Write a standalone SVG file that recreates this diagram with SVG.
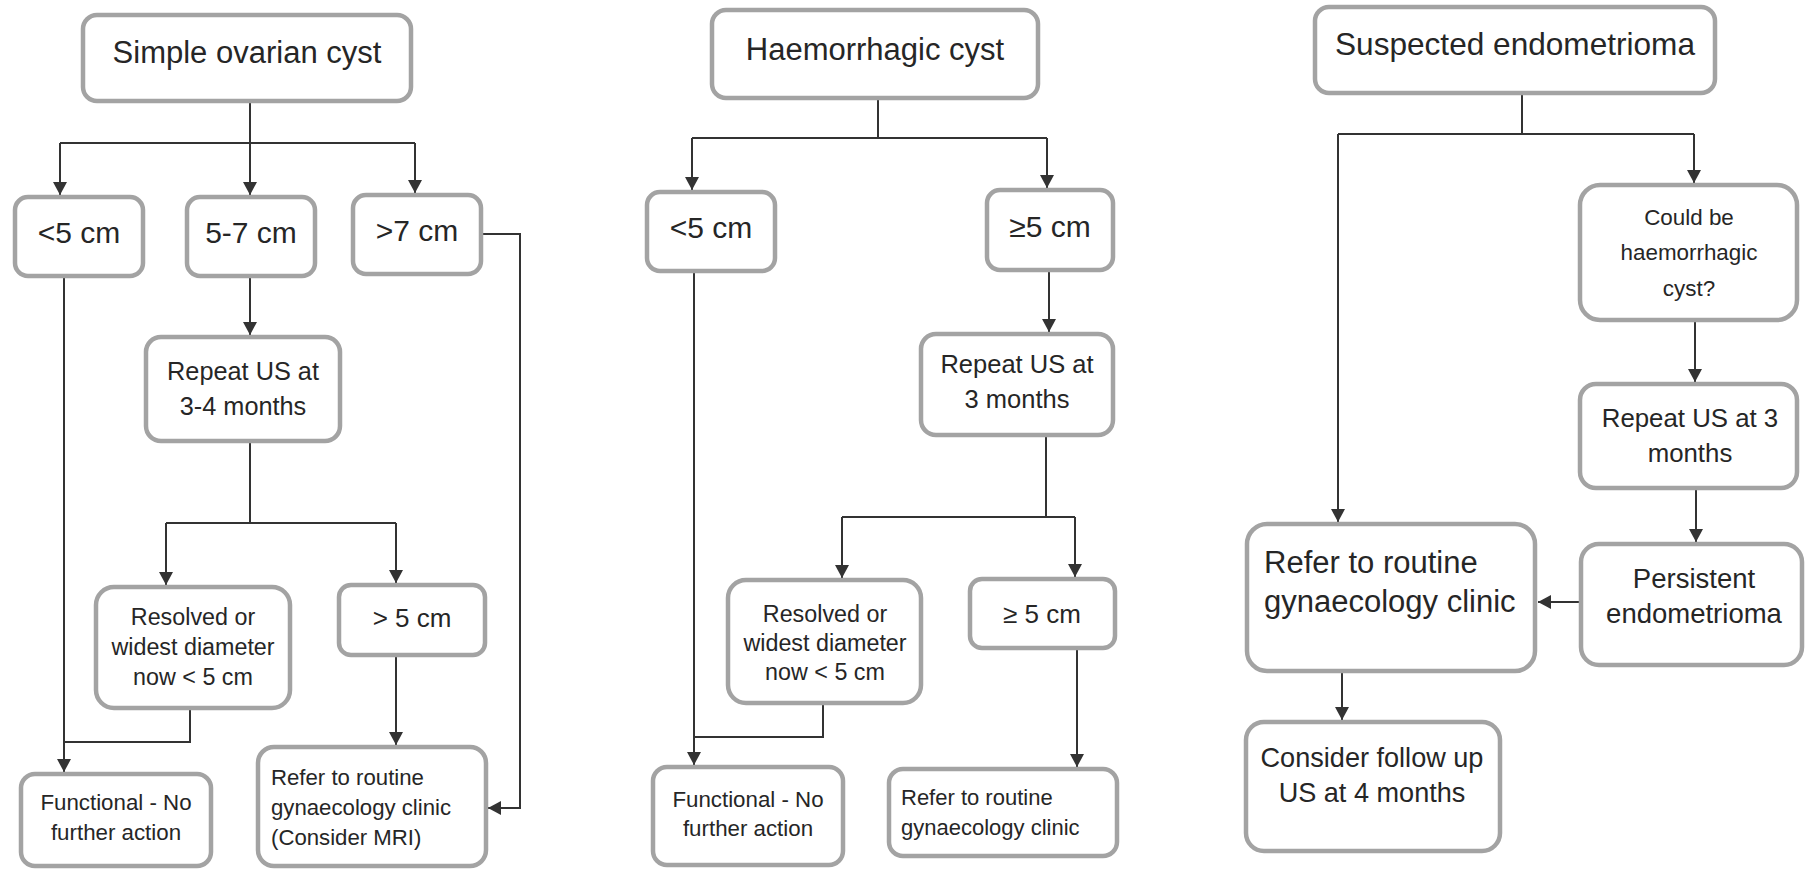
<svg xmlns="http://www.w3.org/2000/svg" width="1807" height="871" viewBox="0 0 1807 871">
<style>
.box{fill:#fff;stroke:#a3a3a3;stroke-width:4.5}
.t{font-family:"Liberation Sans",Arial,sans-serif;fill:#262626;text-anchor:middle}
.l{text-anchor:start}
.c{fill:none;stroke:#333;stroke-width:2}
.a{marker-end:url(#ah)}
</style>
<defs>
<marker id="ah" markerUnits="userSpaceOnUse" markerWidth="14" markerHeight="14" refX="13" refY="7" orient="auto">
<path d="M0,0 L13,7 L0,14 z" fill="#333"/>
</marker>
</defs>
<rect width="1807" height="871" fill="#fff"/>
<g id="connectors">
<path class="c" d="M250,103 V143 M60,143 H415"/>
<path class="c a" d="M250,143 V195"/>
<path class="c a" d="M60,143 V195"/>
<path class="c a" d="M415,143 V193"/>
<path class="c a" d="M64,278 V772"/>
<path class="c" d="M190,710 V742 H64"/>
<path class="c a" d="M250,278 V335"/>
<path class="c" d="M250,443 V523 M166,523 H396"/>
<path class="c a" d="M166,523 V585"/>
<path class="c a" d="M396,523 V583"/>
<path class="c a" d="M396,657 V745"/>
<path class="c a" d="M483,234 H520 V808 H488"/>
<path class="c" d="M878,100 V138 M692,138 H1047"/>
<path class="c a" d="M692,138 V190"/>
<path class="c a" d="M1047,138 V188"/>
<path class="c a" d="M694,273 V765"/>
<path class="c a" d="M1049,272 V332"/>
<path class="c" d="M1046,437 V517 M842,517 H1075"/>
<path class="c a" d="M842,517 V578"/>
<path class="c a" d="M1075,517 V577"/>
<path class="c" d="M823,705 V737 H694"/>
<path class="c a" d="M1077,650 V767"/>
<path class="c" d="M1522,95 V134 M1338,134 H1694"/>
<path class="c a" d="M1694,134 V183"/>
<path class="c a" d="M1338,134 V522"/>
<path class="c a" d="M1695,322 V382"/>
<path class="c a" d="M1696,490 V542"/>
<path class="c a" d="M1579,602 H1538"/>
<path class="c a" d="M1342,673 V720"/>
</g>
<g id="root1"><rect class="box" x="83" y="15" width="328" height="86" rx="14"/><text class="t" x="247" y="63" font-size="31">Simple ovarian cyst</text></g>
<g id="lt5a"><rect class="box" x="15" y="197" width="128" height="79" rx="13"/><text class="t" x="79" y="243" font-size="30">&lt;5 cm</text></g>
<g id="r57"><rect class="box" x="187" y="197" width="128" height="79" rx="13"/><text class="t" x="251" y="243" font-size="30">5-7 cm</text></g>
<g id="gt7"><rect class="box" x="353" y="195" width="128" height="79" rx="13"/><text class="t" x="417" y="241" font-size="30">&gt;7 cm</text></g>
<g id="rep1"><rect class="box" x="146" y="337" width="194" height="104" rx="15"/><text class="t" x="243" y="380" font-size="25.3">Repeat US at</text><text class="t" x="243" y="415" font-size="25.3">3-4 months</text></g>
<g id="res1"><rect class="box" x="96" y="587" width="194" height="121" rx="18"/><text class="t" font-size="23.3"><tspan x="193" y="625">Resolved or</tspan><tspan x="193" y="655">widest diameter</tspan><tspan x="193" y="685">now &lt; 5 cm</tspan></text></g>
<g id="gt5a"><rect class="box" x="339" y="585" width="146" height="70" rx="12"/><text class="t" x="412" y="627" font-size="26">&gt; 5 cm</text></g>
<g id="fun1"><rect class="box" x="21" y="774" width="190" height="92" rx="14"/><text class="t" font-size="22.3"><tspan x="116" y="810">Functional - No</tspan><tspan x="116" y="840">further action</tspan></text></g>
<g id="ref1"><rect class="box" x="258" y="747" width="228" height="119" rx="16"/><text class="t l" font-size="22.2"><tspan x="271" y="785">Refer to routine</tspan><tspan x="271" y="815">gynaecology clinic</tspan><tspan x="271" y="845">(Consider MRI)</tspan></text></g>
<g id="root2"><rect class="box" x="712" y="10" width="326" height="88" rx="14"/><text class="t" x="875" y="60" font-size="31">Haemorrhagic cyst</text></g>
<g id="lt5b"><rect class="box" x="647" y="192" width="128" height="79" rx="13"/><text class="t" x="711" y="238" font-size="30">&lt;5 cm</text></g>
<g id="ge5b"><rect class="box" x="987" y="190" width="126" height="80" rx="13"/><text class="t" x="1050" y="237" font-size="30">≥5 cm</text></g>
<g id="rep2"><rect class="box" x="921" y="334" width="192" height="101" rx="15"/><text class="t" x="1017" y="373" font-size="25.5">Repeat US at</text><text class="t" x="1017" y="408" font-size="25.5">3 months</text></g>
<g id="res2"><rect class="box" x="728" y="580" width="193" height="123" rx="18"/><text class="t" font-size="23.3"><tspan x="825" y="622">Resolved or</tspan><tspan x="825" y="651">widest diameter</tspan><tspan x="825" y="680">now &lt; 5 cm</tspan></text></g>
<g id="ge5c"><rect class="box" x="970" y="579" width="145" height="69" rx="12"/><text class="t" x="1042" y="623" font-size="26">≥ 5 cm</text></g>
<g id="fun2"><rect class="box" x="653" y="767" width="190" height="98" rx="14"/><text class="t" font-size="22.3"><tspan x="748" y="807">Functional - No</tspan><tspan x="748" y="836">further action</tspan></text></g>
<g id="ref2"><rect class="box" x="889" y="769" width="228" height="87" rx="14"/><text class="t l" font-size="22"><tspan x="901" y="805">Refer to routine</tspan><tspan x="901" y="835">gynaecology clinic</tspan></text></g>
<g id="root3"><rect class="box" x="1315" y="7" width="400" height="86" rx="14"/><text class="t" x="1515" y="55" font-size="31.6">Suspected endometrioma</text></g>
<g id="could"><rect class="box" x="1580" y="185" width="217" height="135" rx="20"/><text class="t" font-size="22.4"><tspan x="1689" y="225">Could be</tspan><tspan x="1689" y="260">haemorrhagic</tspan><tspan x="1689" y="296">cyst?</tspan></text></g>
<g id="rep3"><rect class="box" x="1580" y="384" width="217" height="104" rx="16"/><text class="t" font-size="25.8"><tspan x="1690" y="427">Repeat US at 3</tspan><tspan x="1690" y="462">months</tspan></text></g>
<g id="pers"><rect class="box" x="1581" y="544" width="221" height="121" rx="18"/><text class="t" font-size="27.5"><tspan x="1694" y="588">Persistent</tspan><tspan x="1694" y="623">endometrioma</tspan></text></g>
<g id="ref3"><rect class="box" x="1247" y="524" width="288" height="147" rx="20"/><text class="t l" font-size="31"><tspan x="1264" y="573">Refer to routine</tspan><tspan x="1264" y="612">gynaecology clinic</tspan></text></g>
<g id="cons"><rect class="box" x="1246" y="722" width="254" height="129" rx="18"/><text class="t" font-size="27.1"><tspan x="1372" y="767">Consider follow up</tspan><tspan x="1372" y="802">US at 4 months</tspan></text></g>
</svg>
